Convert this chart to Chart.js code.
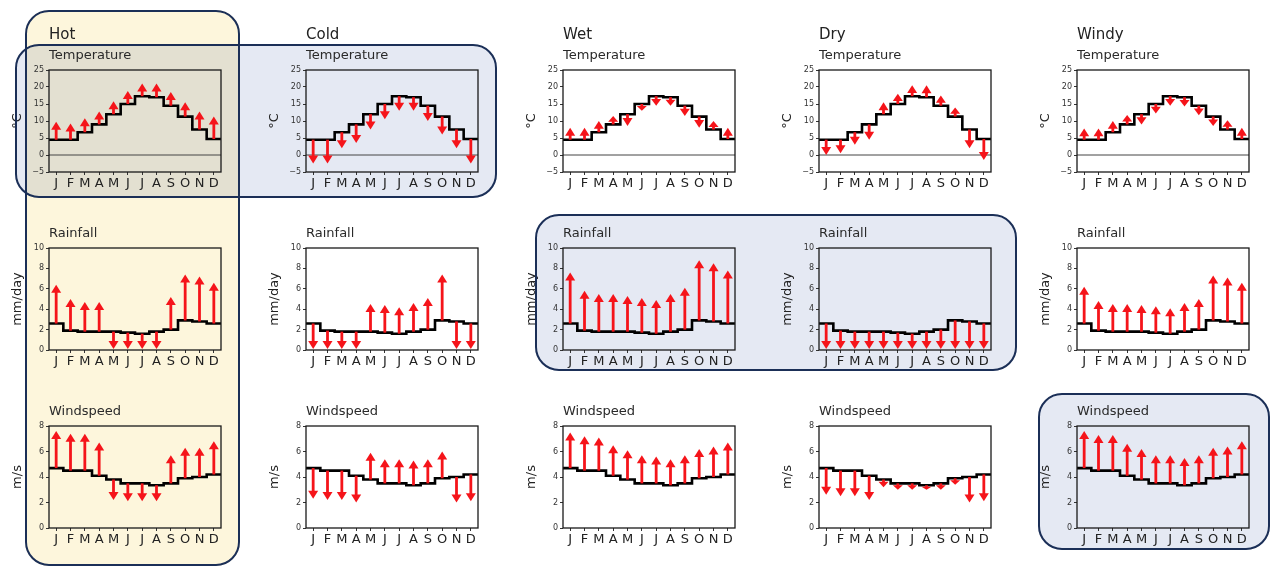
<!DOCTYPE html>
<html>
<head>
<meta charset="utf-8">
<script src="https://cdn.jsdelivr.net/npm/chart.js@4/dist/chart.umd.min.js"></script>
<style>
  html, body { margin:0; padding:0; background:#fff; }
  body { width:1274px; height:567px; position:relative; overflow:hidden; font-family:"DejaVu Sans", sans-serif; color:#222; }
  .box { position:absolute; border-radius:24px; box-sizing:border-box; }
  .fill { mix-blend-mode:multiply; }
  .edge { border:2.5px solid #1b2f57; z-index:5; pointer-events:none; }
  .cell { position:absolute; z-index:2; }
  .lbl { position:absolute; line-height:1; white-space:nowrap; z-index:3; }
  .head { font-size:15px; color:#222; }
  .ttl { font-size:13px; color:#2a2a2a; }
</style>
</head>
<body>
<script>
// months and shared baseline (current climate)
const MONTHS = ['J','F','M','A','M','J','J','A','S','O','N','D'];
const TEMP_BASE = [4.5, 4.5, 6.7, 9.0, 12.0, 15.0, 17.3, 17.0, 14.5, 11.3, 7.5, 4.7];
const RAIN_BASE = [2.6, 1.9, 1.8, 1.8, 1.8, 1.7, 1.6, 1.8, 2.0, 2.9, 2.8, 2.6];
const WIND_BASE = [4.7, 4.5, 4.5, 4.1, 3.8, 3.5, 3.5, 3.35, 3.5, 3.9, 4.0, 4.2];

// scenario targets (arrow tips)
const HOT_TEMP   = [9.8, 9.3, 10.8, 12.8, 15.8, 18.8, 21.0, 21.0, 18.5, 15.5, 12.8, 11.3];
const COLD_TEMP  = [-2.5, -2.5, 2.0, 3.5, 7.5, 10.5, 13.0, 13.0, 10.0, 6.0, 2.0, -2.5];
const WET_TEMP   = [8.0, 8.0, 10.0, 11.5, 8.5, 13.0, 14.5, 14.5, 11.5, 8.0, 10.0, 8.0];
const DRY_TEMP   = [0.0, 0.5, 3.0, 4.5, 15.5, 18.0, 20.5, 20.5, 17.5, 14.0, 2.0, -1.5];
const WINDY_TEMP = [7.8, 7.8, 10.0, 11.8, 9.0, 12.2, 14.5, 14.3, 11.7, 8.5, 10.2, 8.0];

const HOT_RAIN   = [6.4, 5.0, 4.7, 4.7, 0.1, 0.1, 0.1, 0.1, 5.2, 7.4, 7.2, 6.6];
const COLD_RAIN  = [0.1, 0.1, 0.1, 0.1, 4.5, 4.4, 4.2, 4.6, 5.1, 7.4, 0.1, 0.1];
const WET_RAIN   = [7.6, 5.8, 5.5, 5.5, 5.3, 5.1, 4.9, 5.5, 6.1, 8.8, 8.5, 7.8];
const DRY_RAIN   = [0.1, 0.1, 0.1, 0.1, 0.1, 0.1, 0.1, 0.1, 0.1, 0.1, 0.1, 0.1];
const WINDY_RAIN = [6.2, 4.8, 4.5, 4.5, 4.4, 4.3, 4.1, 4.6, 5.0, 7.3, 7.1, 6.6];

const HOT_WIND   = [7.6, 7.4, 7.4, 6.7, 2.2, 2.1, 2.1, 2.1, 5.7, 6.3, 6.3, 6.8];
const COLD_WIND  = [2.3, 2.2, 2.2, 2.0, 5.9, 5.4, 5.4, 5.3, 5.4, 6.0, 2.0, 2.1];
const WET_WIND   = [7.5, 7.2, 7.1, 6.5, 6.1, 5.7, 5.6, 5.4, 5.7, 6.2, 6.4, 6.7];
const DRY_WIND   = [2.6, 2.5, 2.5, 2.2, 3.2, 3.0, 3.0, 3.0, 3.0, 3.4, 2.0, 2.1];
const WINDY_WIND = [7.6, 7.3, 7.3, 6.6, 6.2, 5.7, 5.7, 5.5, 5.7, 6.3, 6.4, 6.8];

const SCENARIOS = ['Hot', 'Cold', 'Wet', 'Dry', 'Windy'];
const VARIABLES = ['Temperature', 'Rainfall', 'Windspeed'];
const UNITS = ['°C', 'mm/day', 'm/s'];
const BASES = [TEMP_BASE, RAIN_BASE, WIND_BASE];
const TARGETS = [
  [HOT_TEMP, COLD_TEMP, WET_TEMP, DRY_TEMP, WINDY_TEMP],
  [HOT_RAIN, COLD_RAIN, WET_RAIN, DRY_RAIN, WINDY_RAIN],
  [HOT_WIND, COLD_WIND, WET_WIND, DRY_WIND, WINDY_WIND]
];
const Y_TICKS = [[-5, 0, 5, 10, 15, 20, 25], [0, 2, 4, 6, 8, 10], [0, 2, 4, 6, 8]];
const ZERO_LINE = [0, 0];

// layout
const PLOT_LEFT = [49, 306, 563, 819, 1077];
const PLOT_TOP = [70, 248, 426];
const PLOT_W = 172, PLOT_H = 102;
const AX_W = 42, PAD_T = 8, PAD_R = 6, AX_H = 22;

// highlight boxes [left, top, width, height, fill]
const BOXES = [
  [25, 10, 215, 556, '#fdf6dc'],
  [15, 44, 482, 154, '#e5e9f3'],
  [535, 214, 482, 157, '#e5e9f3'],
  [1038, 393, 232, 157, '#e5e9f3']
];

function addDiv(cls, css, text){
  const d = document.createElement('div');
  d.className = cls;
  Object.assign(d.style, css);
  if(text) d.textContent = text;
  document.body.appendChild(d);
  return d;
}

BOXES.forEach(b => {
  addDiv('box fill', { left:b[0]+'px', top:b[1]+'px', width:b[2]+'px', height:b[3]+'px', background:b[4] });
  addDiv('box edge', { left:b[0]+'px', top:b[1]+'px', width:b[2]+'px', height:b[3]+'px' });
});

SCENARIOS.forEach((s, c) => addDiv('lbl head', { left:PLOT_LEFT[c]+'px', top:'27px' }, s));

const frame = {
  id:'frame',
  afterDraw(chart){
    const a = chart.chartArea, ctx = chart.ctx;
    ctx.save(); ctx.strokeStyle = '#1a1a1a'; ctx.lineWidth = 1.3;
    ctx.strokeRect(a.left, a.top, a.right - a.left, a.bottom - a.top);
    ctx.restore();
  }
};

const arrows = {
  id:'arrows',
  afterDatasetsDraw(chart, args, opts){
    if(!opts.base) return;
    const { x, y } = chart.scales, ctx = chart.ctx;
    ctx.save();
    ctx.strokeStyle = opts.color; ctx.fillStyle = opts.color; ctx.lineWidth = 2.8;
    opts.base.forEach((b, i) => {
      const px = x.getPixelForValue(i + 0.5);
      const y0 = y.getPixelForValue(b), y1 = y.getPixelForValue(opts.target[i]);
      const len = Math.abs(y1 - y0);
      if(len < 1) return;
      const dir = y1 < y0 ? -1 : 1;
      const hl = Math.min(8, len * 0.7), hw = 5;
      ctx.beginPath(); ctx.moveTo(px, y0); ctx.lineTo(px, y1 - dir * hl * 0.8); ctx.stroke();
      ctx.beginPath();
      ctx.moveTo(px, y1);
      ctx.lineTo(px - hw, y1 - dir * hl);
      ctx.lineTo(px + hw, y1 - dir * hl);
      ctx.closePath(); ctx.fill();
    });
    ctx.restore();
  }
};

function fmt(v){ return v < 0 ? '\u2212' + (-v) : String(v); }

function makePanel(r, c){
  const left = PLOT_LEFT[c] - AX_W, top = PLOT_TOP[r] - PAD_T;
  const w = AX_W + PLOT_W + PAD_R, h = PAD_T + PLOT_H + AX_H;
  addDiv('lbl ttl', { left:PLOT_LEFT[c]+'px', top:(PLOT_TOP[r]-22)+'px' }, VARIABLES[r]);
  const cell = addDiv('cell', { left:left+'px', top:top+'px', width:w+'px', height:h+'px' });
  const cv = document.createElement('canvas');
  cv.width = w; cv.height = h;
  cell.appendChild(cv);

  const base = BASES[r];
  const ticks = Y_TICKS[r];
  const stepPts = base.map((v, i) => ({ x:i, y:v })).concat([{ x:12, y:base[11] }]);
  const datasets = [];
  if(r === 0){
    datasets.push({ data:[{ x:0, y:ZERO_LINE[0] }, { x:12, y:ZERO_LINE[1] }], borderColor:'#444', borderWidth:1, pointRadius:0 });
  }
  datasets.push({ data:stepPts, stepped:true, borderColor:'#000', borderWidth:2.6, pointRadius:0 });

  new Chart(cv, {
    type:'line',
    data:{ datasets },
    options:{
      responsive:false, animation:false, events:[],
      layout:{ padding:{ top:PAD_T, right:PAD_R, left:0, bottom:0 } },
      plugins:{
        legend:{ display:false }, tooltip:{ enabled:false },
        arrows:{ base, target:TARGETS[r][c], color:'#f5141a' }
      },
      scales:{
        x:{
          type:'linear', min:0, max:12,
          afterBuildTicks:(ax) => { ax.ticks = MONTHS.map((m, i) => ({ value:i + 0.5 })); },
          afterFit:(ax) => { ax.height = AX_H; },
          ticks:{ autoSkip:false, maxRotation:0, padding:1, color:'#222', font:{ family:'DejaVu Sans', size:13 },
            callback:(v) => MONTHS[Math.floor(v)] },
          grid:{ drawOnChartArea:false, drawTicks:true, tickLength:3, tickColor:'#333' },
          border:{ display:false }
        },
        y:{
          type:'linear', min:ticks[0], max:ticks[ticks.length - 1],
          afterBuildTicks:(ax) => { ax.ticks = ticks.map(v => ({ value:v })); },
          afterFit:(ax) => { ax.width = AX_W; },
          ticks:{ padding:2, color:'#333', font:{ family:'DejaVu Sans', size:8 }, callback:fmt },
          grid:{ drawOnChartArea:false, drawTicks:true, tickLength:3, tickColor:'#333' },
          border:{ display:false },
          title:{ display:true, text:UNITS[r], color:'#222', padding:{ top:3, bottom:0 }, font:{ family:'DejaVu Sans', size:13 } }
        }
      }
    },
    plugins:[arrows, frame]
  });
}

for(let r = 0; r < 3; r++) for(let c = 0; c < 5; c++) makePanel(r, c);
</script>
</body>
</html>
